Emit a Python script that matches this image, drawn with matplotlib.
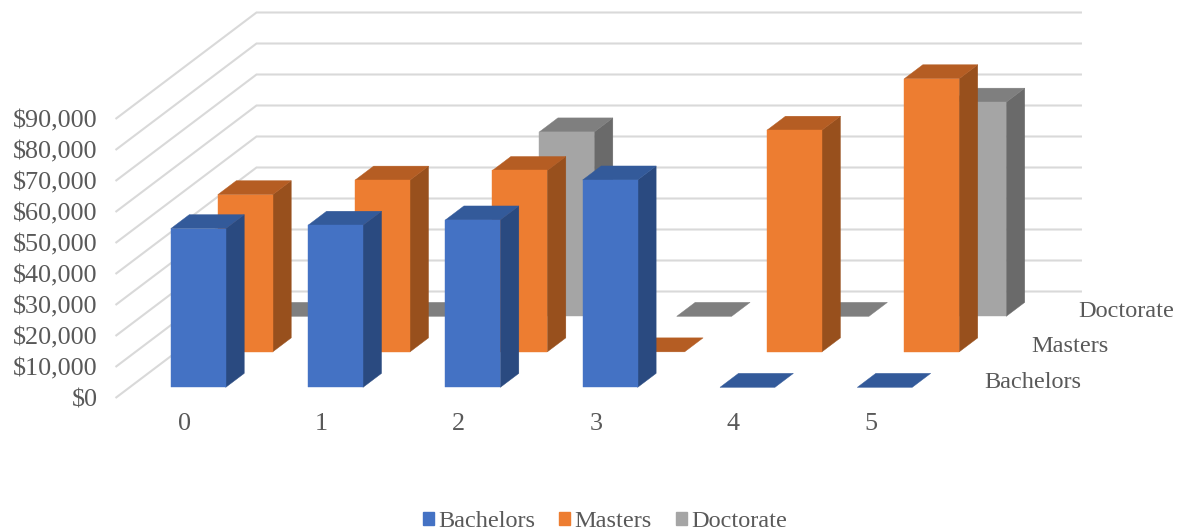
import numpy as np
import matplotlib
matplotlib.use("Agg")
import matplotlib.pyplot as plt
from matplotlib.patches import Patch

categories = ["0", "1", "2", "3", "4", "5"]
series_names = ["Bachelors", "Masters", "Doctorate"]
bachelors = [51200, 52300, 54000, 66900, 0, 0]
masters = [50700, 55400, 58500, 0, 71500, 88100]
doctorate = [0, 0, 59500, 0, 0, 69100]
value_ticks = [0, 10000, 20000, 30000, 40000, 50000, 60000, 70000, 80000, 90000]

series_values = [bachelors, masters, doctorate]
front = ["#4472C4", "#ED7D31", "#A5A5A5"]
side = ["#2A4A80", "#98501D", "#6A6A6A"]
top = ["#335A9A", "#B55D23", "#7F7F7F"]

W, H = 1181, 531
fig = plt.figure(figsize=(W / 100, H / 100), dpi=100, facecolor="white")
X0, X1, Y0, Y90 = 115.5, 939.3, 398.0, 119.0
ax = fig.add_axes([X0 / W, 1 - Y0 / H, (X1 - X0) / W, (Y0 - Y90) / H])
ax.set_xlim(0, 6)
ax.set_ylim(0, 90000)
ax.patch.set_visible(False)
for s in ax.spines.values():
    s.set_visible(False)

DX = 47.0 / ((X1 - X0) / 6)      # category units per series depth
DY = 35.5 / ((Y0 - Y90) / 90000)  # dollars per series depth


def proj(x, z, v):
    """Oblique projection: category x, series depth z, value v -> axes data."""
    return (x + z * DX, v + z * DY)


GRID = "#D9D9D9"
for v in value_ticks:
    pts = [proj(0, 0, v), proj(0, 3, v), proj(6.012, 3, v)]
    ax.plot(*zip(*pts), color=GRID, lw=1.5, clip_on=False, zorder=1,
            solid_joinstyle="miter", solid_capstyle="butt")


def poly(pts, color, zo):
    ax.fill(*zip(*pts), facecolor=color, edgecolor=color, lw=0.3, clip_on=False, zorder=zo)


BW0, BW1 = 0.3, 0.7
Z0, Z1 = 0.3, 0.694
for s in (2, 1, 0):
    base_z = 10 + (2 - s) * 10
    for i, v in enumerate(series_values[s]):
        xa, xb = i + BW0, i + BW1
        za, zb = s + Z0, s + Z1
        if v > 0:
            poly([proj(xb, za, 0), proj(xb, zb, 0), proj(xb, zb, v), proj(xb, za, v)], side[s], base_z)
            poly([proj(xa, za, 0), proj(xb, za, 0), proj(xb, za, v), proj(xa, za, v)], front[s], base_z + 1)
        poly([proj(xa, za, v), proj(xb, za, v), proj(xb, zb, v), proj(xa, zb, v)], top[s], base_z)

FONT = "Liberation Serif"
TXT = "#595959"
ax.set_yticks(value_ticks)
ax.set_yticklabels(["${:,}".format(v) for v in value_ticks], fontfamily=FONT, fontsize=18.8, color=TXT)
ax.set_xticks(np.arange(len(categories)) + 0.5)
ax.set_xticklabels(categories, fontfamily=FONT, fontsize=18.8, color=TXT)
ax.tick_params(axis="y", length=0, pad=12.8)
ax.tick_params(axis="x", length=0, pad=11)

for s, name in enumerate(series_names):
    ax.annotate(name, xy=proj(6, s + 0.5, 0), xytext=(15.6, -1.4), textcoords="offset points",
                ha="left", va="center", fontfamily=FONT, fontsize=17.5, color=TXT,
                annotation_clip=False)

handles = [Patch(facecolor=c, edgecolor=c, label=n) for c, n in zip(front, series_names)]
fig.legend(handles=handles, loc="center", bbox_to_anchor=(605 / W, 1 - 521.5 / H), ncols=3, frameon=False,
           prop={"family": FONT, "size": 17.5}, labelcolor=TXT, handlelength=0.45, handleheight=0.45,
           handletextpad=0.17, columnspacing=1.0, borderpad=0, borderaxespad=0)

fig.savefig("out.png", dpi=100, facecolor="white")
